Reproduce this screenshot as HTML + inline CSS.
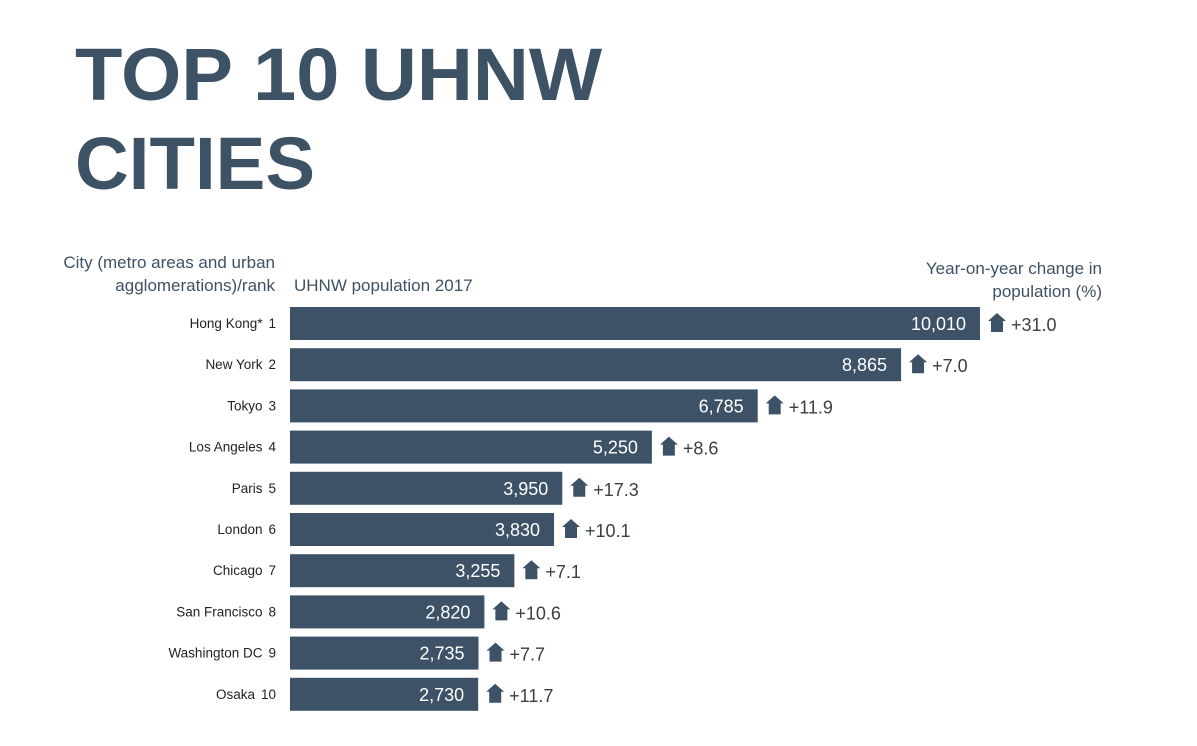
<!DOCTYPE html>
<html><head><meta charset="utf-8"><style>
body{margin:0;background:#fff;}
svg{display:block;font-family:"Liberation Sans",sans-serif;}
</style></head><body>
<svg id="chart" width="1197" height="746" viewBox="0 0 1197 746">
<text x="75" y="100" font-size="74" font-weight="bold" fill="#3e5266" textLength="527" lengthAdjust="spacingAndGlyphs">TOP 10 UHNW</text>
<text x="75" y="189" font-size="74" font-weight="bold" fill="#3e5266" textLength="240" lengthAdjust="spacingAndGlyphs">CITIES</text>
<text font-size="17" fill="#3e5266" text-anchor="end"><tspan x="275" y="268">City (metro areas and urban</tspan><tspan x="275" y="291">agglomerations)/rank</tspan></text>
<text x="294" y="291" font-size="17" fill="#3e5266">UHNW population 2017</text>
<text font-size="17" fill="#3e5266" text-anchor="end"><tspan x="1102" y="274">Year-on-year change in</tspan><tspan x="1102" y="297">population (%)</tspan></text>
<g id="bars"></g>
</svg>
<script>
const cities=["Hong Kong*","New York","Tokyo","Los Angeles","Paris","London","Chicago","San Francisco","Washington DC","Osaka"];
const population=[10010,8865,6785,5250,3950,3830,3255,2820,2735,2730];
const changes=["+31.0","+7.0","+11.9","+8.6","+17.3","+10.1","+7.1","+10.6","+7.7","+11.7"];
const NS="http://www.w3.org/2000/svg";
const g=document.getElementById('bars');
const x0=290, scale=690/10010;
const xs=v=>x0+v*scale;
const ys=i=>307+i*41.2;
function mk(t,a){const e=document.createElementNS(NS,t);for(const k in a)e.setAttribute(k,a[k]);return e;}
cities.forEach((c,i)=>{
  const y=ys(i), xe=xs(population[i]);
  const lab=mk('text',{x:276,y:y+21,'font-size':13.5,fill:'#222','text-anchor':'end'});
  
  
  const t1=mk('tspan',{});t1.textContent=c;
  const t2=mk('tspan',{dx:6});t2.textContent=String(i+1);
  lab.appendChild(t1);lab.appendChild(t2);
  g.appendChild(lab);
  const r=mk('rect',{x:x0,y:y,width:xe-x0,height:33,fill:'#3d5266'});
  
  
  g.appendChild(r);
  const v=mk('text',{x:xe-14,y:y+23,'font-size':18,fill:'#fff','text-anchor':'end'});
  
  
  v.textContent=population[i].toLocaleString('en-US');
  g.appendChild(v);
  const ax=xe+8, ay=y+6;
  const ar=mk('polygon',{points:`${ax+9},${ay} ${ax+18},${ay+8} ${ax+15},${ay+8} ${ax+15},${ay+19} ${ax+3},${ay+19} ${ax+3},${ay+8} ${ax},${ay+8}`,fill:'#3d5266'});
  
  
  g.appendChild(ar);
  const ch=mk('text',{x:ax+23,y:y+24,'font-size':18,fill:'#3a3f46'});
  
  
  ch.textContent=changes[i];
  g.appendChild(ch);
});
</script>
</body></html>
